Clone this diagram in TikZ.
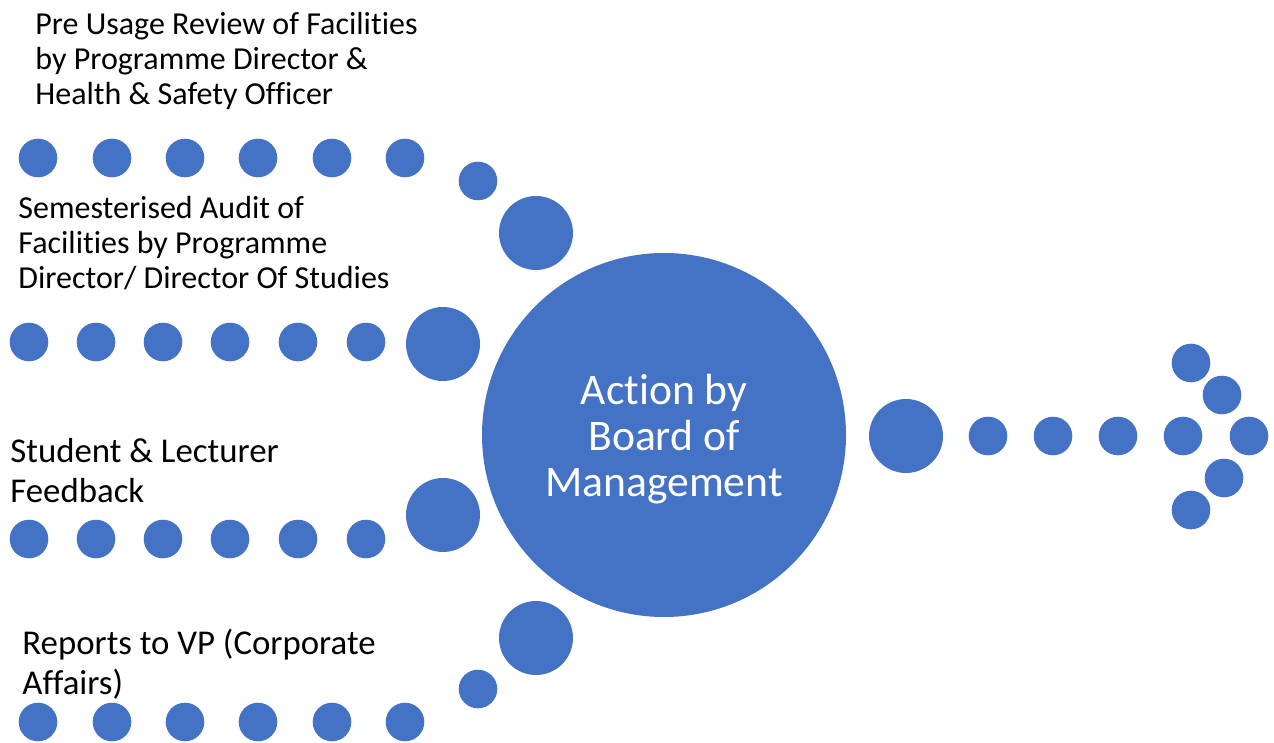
\documentclass[tikz,border=0pt]{standalone}
\usepackage{fontspec}
\setmainfont{Carlito}[Ligatures={NoCommon}]
\usepackage{tikz}

\definecolor{boardblue}{HTML}{4472C4}

\begin{document}
\begin{tikzpicture}[
    x=0.5pt, y=-0.5pt,
    dot/.style={circle, fill=boardblue, inner sep=0pt, minimum size=19.3pt},
    bigdot/.style={circle, fill=boardblue, inner sep=0pt, minimum size=37pt},
    source/.style={anchor=north west, inner sep=0pt, align=left, font=\fontsize{16}{17.5}\selectfont},
    bigsource/.style={source, font=\fontsize{17.4}{20}\selectfont},
    hub/.style={circle, fill=boardblue, inner sep=0pt, minimum size=182pt, text=white, text depth=0pt, align=center, font=\fontsize{21.8}{23}\selectfont}
]
    \useasboundingbox (0,0) rectangle (1274,743);

    \node[hub] (board) at (664,435) {Action by\\Board of\\Management};

    % pre usage review
    \node[source] (review) at (35,12) {Pre Usage Review of Facilities\\by Programme Director \&\\Health \& Safety Officer};
    \foreach \x [count=\i] in {38,112,185,258,332,405}
        \node[dot] (review\i) at (\x,158) {};
    \node[dot] (review7) at (478,181) {};
    \node[bigdot] (review8) at (536,233) {};

    % semester audit
    \node[source] (audit) at (18,196) {Semesterised Audit of\\Facilities by Programme\\Director/ Director Of Studies};
    \foreach \x [count=\i] in {29,96,163,230,298,366}
        \node[dot] (audit\i) at (\x,342) {};
    \node[bigdot] (audit7) at (443,344) {};

    % feedback
    \node[bigsource] (feedback) at (10,438) {Student \& Lecturer\\Feedback};
    \foreach \x [count=\i] in {29,96,163,230,298,366}
        \node[dot] (feedback\i) at (\x,539) {};
    \node[bigdot] (feedback7) at (443,515) {};

    % reports
    \node[bigsource] (reports) at (22,629) {Reports to VP (Corporate\\Affairs)};
    \foreach \x [count=\i] in {38,112,185,258,332,405}
        \node[dot] (reports\i) at (\x,722) {};
    \node[dot] (reports7) at (478,689) {};
    \node[bigdot] (reports8) at (536,638) {};

    % outgoing arrow
    \node[bigdot] (out1) at (906,436) {};
    \foreach \x [count=\i from 2] in {988,1053,1118,1183}
        \node[dot] (out\i) at (\x,436) {};
    \node[dot] (tip1) at (1191,363) {};
    \node[dot] (tip2) at (1222,395) {};
    \node[dot] (tip3) at (1249,436) {};
    \node[dot] (tip4) at (1224,478) {};
    \node[dot] (tip5) at (1191,510) {};
\end{tikzpicture}
\end{document}
